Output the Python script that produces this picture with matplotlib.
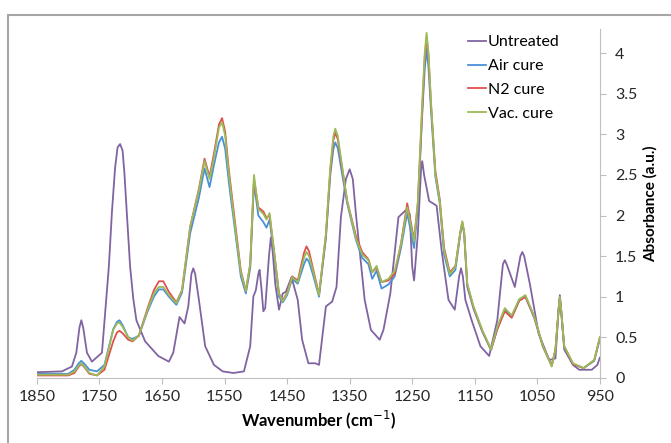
import matplotlib.pyplot as plt
from matplotlib.patches import Rectangle

plt.rcParams['font.family'] = ['Lato', 'DejaVu Sans']

# untreated spectrum
wn_untreated = [1850, 1810, 1794, 1787, 1782, 1779, 1776, 1770, 1762, 1746, 1735, 1730, 1725, 1721,
                1717, 1713, 1710, 1706, 1701, 1696, 1691,
                1677, 1656, 1639, 1632, 1622, 1614, 1608, 1603, 1600, 1597, 1591, 1581, 1567,
                1553, 1536, 1519,
                1509, 1504, 1500, 1496, 1494, 1491, 1488, 1485, 1479, 1476, 1473, 1469, 1463,
                1457, 1452, 1443, 1433, 1426, 1416, 1405, 1399,
                1388, 1378, 1371, 1364, 1356, 1350, 1345, 1340, 1326, 1316, 1302, 1296, 1285,
                1272, 1261, 1254, 1250, 1247, 1241, 1236, 1234, 1231, 1223,
                1211, 1203, 1192, 1182, 1175, 1172, 1169, 1165, 1155, 1141, 1127, 1114, 1105,
                1102, 1099, 1086, 1077, 1074, 1071, 1062, 1048, 1031, 1021, 1016, 1014, 1012,
                1007, 993, 983, 963, 954, 950]
untreated = [0.07, 0.08, 0.14, 0.31, 0.62, 0.71, 0.62, 0.31, 0.2, 0.31, 1.37, 2.05, 2.59, 2.84,
             2.88, 2.8, 2.51, 2.0, 1.37, 0.98, 0.71,
             0.45, 0.27, 0.2, 0.31, 0.75, 0.67, 0.88, 1.28, 1.35, 1.28, 0.96, 0.39, 0.16,
             0.08, 0.06, 0.08,
             0.39, 1.0, 1.08, 1.28, 1.33, 1.1, 0.82, 0.86, 1.5, 1.73, 1.55, 1.16, 0.84,
             1.04, 1.06, 1.24, 0.96, 0.47, 0.18, 0.18, 0.16,
             0.88, 0.94, 1.12, 1.98, 2.45, 2.57, 2.45, 2.02, 0.96, 0.59, 0.47, 0.59, 1.04,
             1.98, 2.06, 2.02, 1.37, 1.2, 1.78, 2.55, 2.67, 2.5, 2.18,
             2.12, 1.57, 0.96, 0.84, 1.25, 1.35, 1.25, 0.96, 0.71, 0.39, 0.27, 0.71, 1.4,
             1.45, 1.4, 1.12, 1.5, 1.55, 1.5, 1.16, 0.55, 0.22, 0.24, 0.85, 1.02, 0.85,
             0.35, 0.16, 0.1, 0.1, 0.16, 0.25]

# cured spectra (shared wavenumber points)
wn_cure = [1850, 1800, 1790, 1783, 1779, 1775, 1766, 1754, 1742, 1728, 1722, 1718, 1713, 1704, 1697, 1687,
           1673, 1663, 1655, 1648, 1639, 1627, 1618, 1605, 1591, 1582, 1574, 1567, 1559, 1554, 1549,
           1543, 1533, 1524, 1516, 1509, 1503, 1496, 1488, 1483, 1478, 1471, 1463,
           1457, 1450, 1442, 1433, 1423, 1419, 1415, 1409, 1399, 1388, 1381, 1376, 1373, 1369, 1364, 1354,
           1340, 1330, 1320, 1314, 1307, 1299, 1288, 1278, 1268, 1258, 1247, 1241,
           1234, 1230, 1227, 1224, 1220, 1213, 1206, 1199, 1190, 1181, 1173, 1170, 1167, 1162, 1152, 1138,
           1124, 1114, 1102, 1091, 1079, 1069, 1055, 1041, 1027, 1021, 1016, 1014, 1012, 1007,
           993, 976, 959, 950]
air = [0.05, 0.05, 0.1, 0.18, 0.21, 0.18, 0.1, 0.08, 0.16, 0.6, 0.69, 0.71, 0.65, 0.5, 0.48, 0.52,
       0.82, 1.0, 1.09, 1.09, 1.0, 0.9, 1.05, 1.78, 2.22, 2.58, 2.35, 2.62, 2.9, 2.97, 2.82,
       2.4, 1.8, 1.25, 1.04, 1.35, 2.4, 2.0, 1.92, 1.85, 1.95, 1.52, 1.0,
       0.93, 1.02, 1.22, 1.16, 1.4, 1.47, 1.43, 1.28, 1.0, 1.72, 2.5, 2.82, 2.9, 2.83, 2.6, 2.15,
       1.7, 1.48, 1.4, 1.22, 1.32, 1.1, 1.15, 1.25, 1.6, 2.03, 1.6, 2.1,
       3.25, 3.8, 4.05, 3.82, 3.3, 2.48, 2.15, 1.52, 1.25, 1.33, 1.78, 1.9, 1.78, 1.12, 0.85, 0.57,
       0.34, 0.6, 0.84, 0.75, 0.95, 1.0, 0.74, 0.38, 0.15, 0.34, 0.83, 0.98, 0.83, 0.38,
       0.17, 0.12, 0.21, 0.48]
n2 = [0.03, 0.03, 0.06, 0.14, 0.17, 0.14, 0.05, 0.03, 0.1, 0.45, 0.56, 0.58, 0.55, 0.47, 0.45, 0.52,
      0.86, 1.08, 1.19, 1.19, 1.06, 0.93, 1.08, 1.86, 2.33, 2.7, 2.48, 2.76, 3.12, 3.2, 3.03,
      2.55, 1.9, 1.32, 1.07, 1.4, 2.45, 2.1, 2.05, 1.97, 2.0, 1.57, 1.04,
      0.95, 1.05, 1.25, 1.2, 1.54, 1.62, 1.56, 1.36, 1.03, 1.75, 2.55, 2.93, 3.02, 2.94, 2.68, 2.18,
      1.75, 1.55, 1.46, 1.3, 1.36, 1.18, 1.2, 1.28, 1.65, 2.15, 1.7, 2.15,
      3.3, 3.95, 4.2, 3.97, 3.38, 2.55, 2.2, 1.6, 1.3, 1.38, 1.8, 1.92, 1.8, 1.15, 0.87, 0.58,
      0.35, 0.6, 0.82, 0.74, 0.95, 1.0, 0.75, 0.39, 0.15, 0.35, 0.84, 0.99, 0.84, 0.39,
      0.17, 0.12, 0.22, 0.5]
vac = [0.04, 0.04, 0.08, 0.15, 0.18, 0.15, 0.06, 0.03, 0.14, 0.59, 0.67, 0.68, 0.63, 0.5, 0.46, 0.52,
       0.84, 1.04, 1.12, 1.12, 1.02, 0.92, 1.08, 1.86, 2.31, 2.67, 2.45, 2.71, 3.08, 3.15, 2.98,
       2.5, 1.85, 1.3, 1.07, 1.4, 2.5, 2.08, 2.02, 1.95, 2.03, 1.57, 1.04,
       0.94, 1.04, 1.24, 1.18, 1.48, 1.55, 1.5, 1.33, 1.02, 1.78, 2.59, 2.98, 3.07, 2.98, 2.71, 2.18,
       1.72, 1.52, 1.45, 1.3, 1.38, 1.18, 1.22, 1.32, 1.65, 2.1, 1.68, 2.18,
       3.4, 4.0, 4.25, 4.0, 3.4, 2.51, 2.18, 1.57, 1.28, 1.37, 1.8, 1.93, 1.8, 1.16, 0.88, 0.59,
       0.35, 0.63, 0.86, 0.77, 0.97, 1.02, 0.76, 0.39, 0.14, 0.35, 0.85, 1.0, 0.85, 0.39,
       0.18, 0.12, 0.22, 0.5]

xticks = [1850, 1750, 1650, 1550, 1450, 1350, 1250, 1150, 1050, 950]
yticks = [0, 0.5, 1, 1.5, 2, 2.5, 3, 3.5, 4]
ytick_labels = ['0', '0.5', '1', '1.5', '2', '2.5', '3', '3.5', '4']

fig = plt.figure(figsize=(6.71, 4.43), dpi=100)
ax = fig.add_axes([0.055, 0.147, 0.839, 0.788])

ax.plot(wn_untreated, untreated, color='#8064A2', lw=1.3, label='Untreated')
ax.plot(wn_cure, air, color='#4A90D9', lw=1.3, label='Air cure')
ax.plot(wn_cure, n2, color='#E0504D', lw=1.3, label='N2 cure')
ax.plot(wn_cure, vac, color='#9BBB59', lw=1.3, label='Vac. cure')

ax.set_xlim(1850, 950)
ax.set_ylim(0, 4.3)
ax.set_xticks(xticks)
ax.set_yticks(yticks)
ax.set_yticklabels(ytick_labels)

for s in ['top', 'left']:
    ax.spines[s].set_visible(False)
for s in ['right', 'bottom']:
    ax.spines[s].set_color('#bfbfbf')
ax.yaxis.tick_right()
ax.yaxis.set_label_position('right')
ax.tick_params(axis='both', colors='#bfbfbf', labelcolor='#262626',
               labelsize=11.5, length=4, direction='out')
ax.tick_params(axis='x', pad=5)
ax.tick_params(axis='y', pad=7)

ax.set_xlabel('Wavenumber (cm$^{-1}$)', fontsize=12, fontweight='bold', labelpad=3)
ax.set_ylabel('Absorbance (a.u.)', fontsize=11, fontweight='bold', labelpad=4)

ax.legend(loc='upper left', bbox_to_anchor=(0.755, 1.0), frameon=False,
          fontsize=11.5, handlelength=1.1, handletextpad=0.1, labelspacing=0.6,
          borderaxespad=0)

# chart area border
fig.patches.append(Rectangle((8 / 671, -0.1), 1.2, 1.1 - 15 / 443,
                             transform=fig.transFigure, fill=False,
                             edgecolor='#a6a6a6', lw=1.5))

fig.savefig('out.png', dpi=100)
